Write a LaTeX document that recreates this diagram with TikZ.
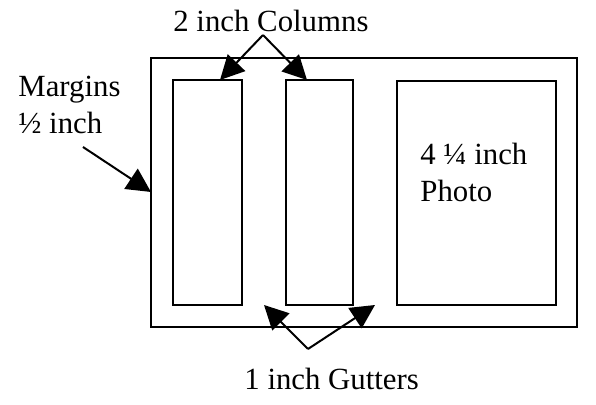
\documentclass[tikz,border=0pt]{standalone}
\usepackage{fontspec}
\setmainfont{Liberation Serif}
\usetikzlibrary{arrows.meta}
\tikzset{
  box/.style={draw=black,line width=1pt},
  pointer/.style={draw=black,line width=1pt,-{Triangle[length=12pt,width=12pt]}},
  lbl/.style={inner sep=0pt,font=\fontsize{15.4}{18.5}\selectfont}
}
\begin{document}
\begin{tikzpicture}[x=0.5pt,y=-0.5pt]
\useasboundingbox (0,0) rectangle (596,405);
% page and panels
\draw[box] (151,58) rectangle (577,327);
\draw[box] (173,80) rectangle (242,305);
\draw[box] (286,80) rectangle (353,305);
\draw[box] (397,81) rectangle (556,305);
% labels
\node[lbl,anchor=base west] (columns) at (173,32) {2 inch Columns};
\node[lbl,anchor=base west,align=left] (margins) at (18,134) {Margins\\½ inch};
\node[lbl,anchor=base west,align=left] (photo) at (420,202) {4 ¼ inch\\Photo};
\node[lbl,anchor=base west] (gutters) at (244,390) {1 inch Gutters};
% arrow ends
\coordinate (ctop) at (263,35);
\coordinate (col1) at (220,80);
\coordinate (col2) at (307,80);
\coordinate (mtail) at (83,147);
\coordinate (mtip) at (151,192);
\coordinate (gbot) at (308,349);
\coordinate (gut1) at (264,305);
\coordinate (gut2) at (375,305);
% arrows
\draw[pointer] (ctop)--(col1);
\draw[pointer] (ctop)--(col2);
\draw[pointer] (mtail)--(mtip);
\draw[pointer] (gbot)--(gut1);
\draw[pointer] (gbot)--(gut2);
\end{tikzpicture}
\end{document}
